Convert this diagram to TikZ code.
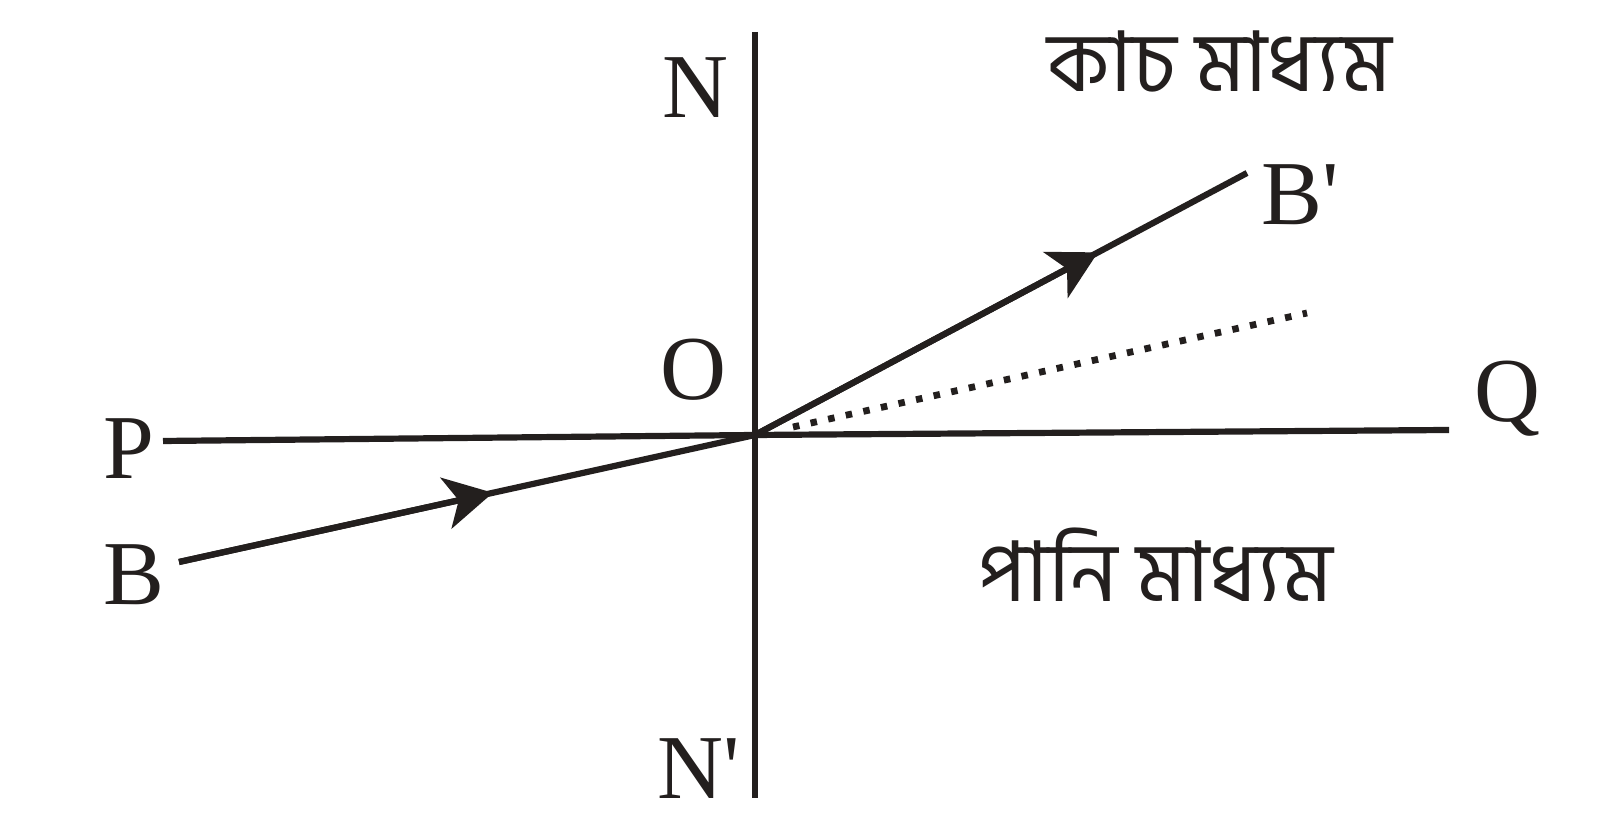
\documentclass[tikz,border=0pt]{standalone}
\usepackage{fontspec}
\setmainfont{Liberation Serif}
\newfontfamily\bn[Script=Bengali]{Hind Siliguri}
\usetikzlibrary{arrows.meta,calc}
\definecolor{ink}{RGB}{35,31,30}
\newcommand\prm{\XeTeXglyph\XeTeXcharglyph"27\relax}
\begin{document}
\begin{tikzpicture}[
  ray/.style={draw=ink,color=ink,line width=0.062cm},
  tiparrow/.style={-{Stealth[length=0.48cm,width=0.52cm,inset=0.13cm]}},
  lbl/.style={inner sep=0pt,anchor=base west,text=ink,font=\fontsize{26}{30}\selectfont},
  bnlbl/.style={inner sep=0pt,anchor=base west,text=ink,font=\bn\fontsize{23.8}{28}\selectfont},
  dotline/.style={draw=ink,line width=0.068cm,dash pattern=on 0.065cm off 0.115cm}
]
\useasboundingbox (0,0) rectangle (16,8.35);
\coordinate (Ntop) at (7.55,8.03);
\coordinate (Nbot) at (7.55,0.37);
\coordinate (O) at (7.55,4.00);
\coordinate (Pend) at (1.63,3.94);
\coordinate (Qend) at (14.49,4.05);
\coordinate (Bend) at (1.79,2.73);
\coordinate (Bpend) at (12.47,6.62);
\coordinate (Dend) at (13.07,5.22);
\coordinate (Dstart) at (7.93,4.08);
\coordinate (tipB) at ($(Bend)!0.545!(O)$);
\coordinate (tipBp) at ($(O)!0.697!(Bpend)$);
% lines
\draw[ray] (Ntop) -- (Nbot);
\draw[ray] (Pend) -- (O) -- (Qend);
\draw[ray] (Bend) -- (O);
\draw[ray,tiparrow] (Bend) -- (tipB);
\draw[ray] (O) -- (Bpend);
\draw[ray,tiparrow] (O) -- (tipBp);
\draw[dotline] (Dstart) -- (Dend);
% labels
\node[lbl] (lN) at (6.62,7.17) {N};
\node[lbl] (lN2) at (6.57,0.36) {N\prm};
\node[lbl] (lO) at (6.60,4.35) {O};
\node[lbl] (lP) at (1.03,3.56) {P};
\node[lbl] (lB) at (1.03,2.30) {B};
\node[lbl] (lQ) at (14.74,4.13) {Q};
\node[lbl] (lB2) at (12.61,6.10) {B\prm};
\node[bnlbl] (glass) at (10.47,7.43) {কাচ মাধ্যম};
\node[bnlbl] (water) at (9.78,2.33) {পানি মাধ্যম};
\end{tikzpicture}
\end{document}
